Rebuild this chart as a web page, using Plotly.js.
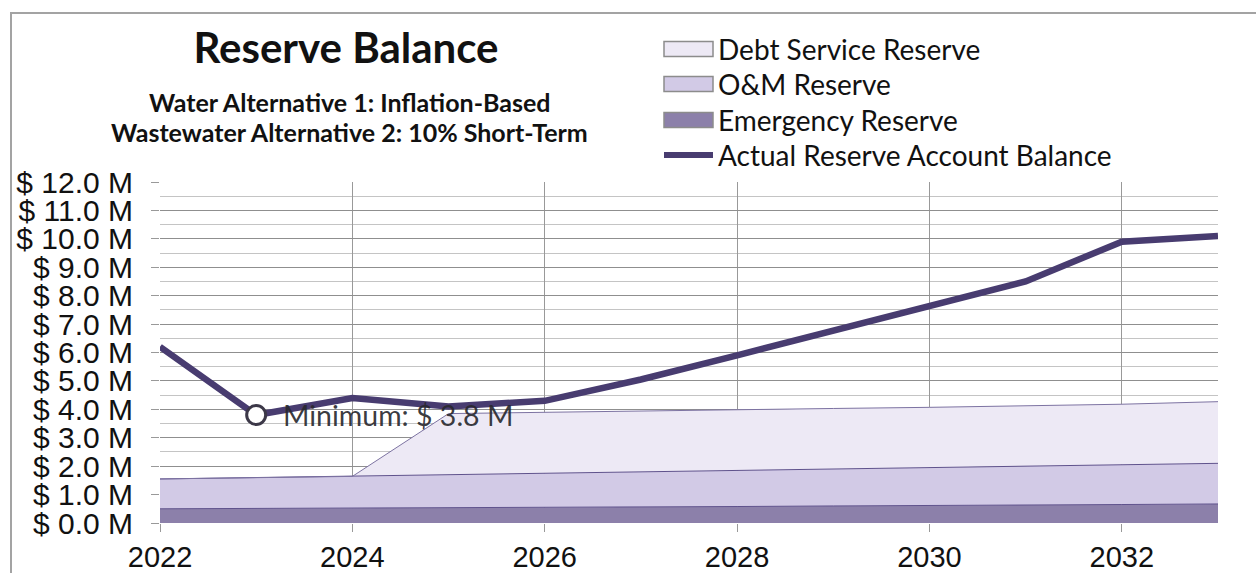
<!DOCTYPE html>
<html>
<head>
<meta charset="utf-8">
<script src="https://cdn.plot.ly/plotly-3.0.1.min.js"></script>
<style>
  html, body { margin: 0; padding: 0; background: #ffffff; }
  #chart { width: 1256px; height: 573px; }
</style>
</head>
<body>
<div id="chart"></div>
<script>
// ---- data (values in $ millions) ----
const years = [2022, 2023, 2024, 2025, 2026, 2027, 2028, 2029, 2030, 2031, 2032, 2033];
const emergencyReserve = [0.50, 0.51, 0.53, 0.54, 0.55, 0.57, 0.58, 0.60, 0.61, 0.63, 0.65, 0.67];
const omReserve = [1.05, 1.09, 1.11, 1.15, 1.19, 1.22, 1.26, 1.29, 1.34, 1.37, 1.40, 1.43];
const debtServiceReserve = [0.00, 0.00, 0.00, 2.16, 2.16, 2.16, 2.16, 2.14, 2.12, 2.12, 2.13, 2.17];
const actualBalance = [6.2, 3.8, 4.4, 4.1, 4.3, 5.05, 5.9, 6.75, 7.6, 8.5, 9.9, 10.1];

const titleText = "Reserve Balance";
const subtitle1 = "Water Alternative 1: Inflation-Based";
const subtitle2 = "Wastewater Alternative 2: 10% Short-Term";
const legendNames = ["Debt Service Reserve", "O&M Reserve", "Emergency Reserve", "Actual Reserve Account Balance"];

// ---- minimum point (derived from data) ----
let minIdx = 0;
actualBalance.forEach((v, i) => { if (v < actualBalance[minIdx]) minIdx = i; });
const minYear = years[minIdx];
const minVal = actualBalance[minIdx];

// ---- geometry helpers (pixels -> paper) ----
const W = 1256, H = 573;
const M = { l: 160, r: 38, t: 182, b: 50, autoexpand: false };
const pw = W - M.l - M.r, ph = H - M.t - M.b;
const px2x = px => (px - M.l) / pw;
const py2y = py => (H - M.b - py) / ph;

// ---- styles ----
const edge = "rgb(95,82,140)";
const colEmergency = "rgb(140,128,170)";
const colOM = "rgb(210,202,230)";
const colDebt = "rgb(237,233,245)";
const colLine = "rgb(72,60,112)";

const traces = [
  {
    x: years, y: emergencyReserve, name: legendNames[2],
    type: "scatter", mode: "lines", stackgroup: "reserves",
    line: { color: edge, width: 1 }, fillcolor: colEmergency, hoverinfo: "skip"
  },
  {
    x: years, y: omReserve, name: legendNames[1],
    type: "scatter", mode: "lines", stackgroup: "reserves",
    line: { color: edge, width: 1 }, fillcolor: colOM, hoverinfo: "skip"
  },
  {
    x: years, y: debtServiceReserve, name: legendNames[0],
    type: "scatter", mode: "lines", stackgroup: "reserves",
    line: { color: "rgb(125,115,162)", width: 1 }, fillcolor: colDebt, hoverinfo: "skip"
  },
  {
    x: years, y: actualBalance, name: legendNames[3],
    type: "scatter", mode: "lines",
    line: { color: colLine, width: 6.5 }
  },
  {
    x: [minYear], y: [minVal], type: "scatter", mode: "markers",
    marker: { size: 19, color: "#ffffff", line: { color: "rgb(60,56,72)", width: 3 } }
  }
];

// ---- manual legend (layout only) ----
const legRowsY = [49, 84, 120, 155];
const legSwX0 = 664, legSwX1 = 713, legTextX = 716;
const legFills = [colDebt, colOM, colEmergency];
const shapes = [];
const annotations = [];
legendNames.forEach((name, i) => {
  const yc = legRowsY[i];
  if (i < 3) {
    shapes.push({
      type: "rect", xref: "paper", yref: "paper",
      x0: px2x(legSwX0), x1: px2x(legSwX1), y0: py2y(yc + 7.5), y1: py2y(yc - 7.5),
      fillcolor: legFills[i], line: { color: "#8c8c8c", width: 1.5 }
    });
  } else {
    shapes.push({
      type: "line", xref: "paper", yref: "paper",
      x0: px2x(legSwX0), x1: px2x(legSwX1), y0: py2y(yc), y1: py2y(yc),
      line: { color: colLine, width: 6 }
    });
  }
  annotations.push({
    xref: "paper", yref: "paper", x: px2x(legTextX), y: py2y(yc),
    xanchor: "left", yanchor: "middle", showarrow: false,
    text: name.replace(/&/g, "&amp;"),
    font: { family: "Lato, sans-serif", size: 28, color: "#111111" }
  });
});

annotations.push(
  {
    xref: "paper", yref: "paper", x: px2x(349), y: py2y(102),
    xanchor: "center", yanchor: "middle", showarrow: false,
    text: "<b>" + subtitle1 + "</b>",
    font: { family: "Lato, sans-serif", size: 25, color: "#111111" }
  },
  {
    xref: "paper", yref: "paper", x: px2x(349), y: py2y(132),
    xanchor: "center", yanchor: "middle", showarrow: false,
    text: "<b>" + subtitle2 + "</b>",
    font: { family: "Lato, sans-serif", size: 25, color: "#111111" }
  },
  {
    x: minYear, y: minVal, xref: "x", yref: "y",
    xanchor: "left", yanchor: "middle", xshift: 25, showarrow: false,
    text: "Minimum: $ " + minVal.toFixed(1) + " M",
    font: { family: "Lato, sans-serif", size: 28.5, color: "rgba(40,40,46,0.92)" }
  }
);

// outer frame
shapes.push({
  type: "rect", xref: "paper", yref: "paper", layer: "above",
  x0: px2x(11), x1: px2x(W + 20), y0: py2y(H + 20), y1: py2y(13),
  line: { color: "#a3a3a3", width: 2 }, fillcolor: "rgba(0,0,0,0)"
});

const layout = {
  width: W, height: H,
  margin: M,
  paper_bgcolor: "#ffffff",
  plot_bgcolor: "#ffffff",
  showlegend: false,
  font: { family: "Liberation Sans, Arial, sans-serif", color: "#111111" },
  title: {
    text: "<b>" + titleText + "</b>",
    font: { family: "Lato, sans-serif", size: 42, color: "#111111" },
    x: 346 / W, xref: "container", xanchor: "center",
    y: 1 - 48 / H, yref: "container", yanchor: "middle"
  },
  xaxis: {
    range: [2022, 2033], tick0: 2022, dtick: 2,
    showgrid: true, gridcolor: "#999999", gridwidth: 1,
    zeroline: false, showline: false,
    ticks: "outside", ticklen: 8, tickcolor: "#999999",
    tickfont: { family: "Liberation Sans, Arial, sans-serif", size: 29, color: "#111111" }
  },
  yaxis: {
    range: [0, 12], tick0: 0, dtick: 1,
    tickprefix: "$ ", ticksuffix: " M", tickformat: ".1f",
    showgrid: true, gridcolor: "#8f8f8f", gridwidth: 1,
    minor: { dtick: 0.5, showgrid: true, gridcolor: "#c4c4c4", gridwidth: 1 },
    zeroline: false, showline: false,
    ticks: "outside", ticklen: 8, tickcolor: "#999999",
    ticklabelstandoff: 12,
    tickfont: { family: "Liberation Sans, Arial, sans-serif", size: 30, color: "#111111" }
  },
  annotations: annotations,
  shapes: shapes
};

Plotly.newPlot("chart", traces, layout, { displayModeBar: false, staticPlot: true });
</script>
</body>
</html>
